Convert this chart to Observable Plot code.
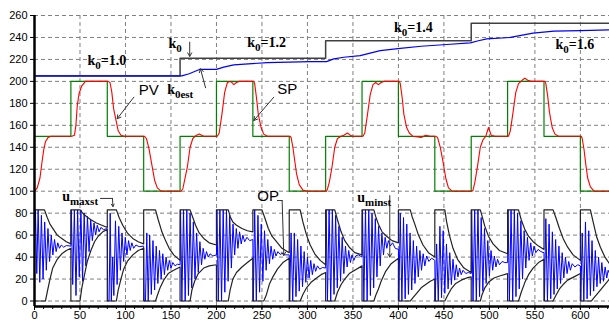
<!DOCTYPE html>
<html><head><meta charset="utf-8">
<script src="https://cdn.jsdelivr.net/npm/d3@7"></script>
<script src="https://cdn.jsdelivr.net/npm/@observablehq/plot@0.6"></script>
<style>body{margin:0;background:#fff;} svg{display:block}</style>
</head><body><div id="chart"></div><script>
// ---- tick labels ----
const xTicks = [0,50,100,150,200,250,300,350,400,450,500,550,600];
const yTicks = [0,20,40,60,80,100,120,140,160,180,200,220,240,260];

// ---- k0 (true gain, scaled) ----
const k0Times  = [0,160,320,480,632];
const k0Values = [205,221,237,253,253];

// ---- k0 estimate ----
const k0est = [[0,205],[162,205],[170,207],[176,209],[182,211],[190,211],[200,211],[208,213],[219,215],[235,216],[256,217],[280,217.5],[303,218],[321,218],[329,220.5],[340,222],[358,223.5],[370,226],[380,228],[402,230],[425,232],[453,233.6],[479,235],[488,237],[497,238.7],[523,240],[548,244],[571,245.7],[600,246.2],[632,247]];

// ---- set point ----
const spTimes  = [0,0,40,80,120,160,200,240,280,320,360,400,440,480,520,560,600,632];
const spValues = [125,150,200,150,100,150,200,150,100,150,200,150,100,150,200,150,100,100];

// ---- process variable ----
const pv = [[0,100],[3,103],[6,112],[8,125],[10,137],[12,145],[15,149],[18,150],[41,150],
[44,151],[45.5,160],[47,178],[49,189],[52,196],[56,200],[81,200],
[83,199],[85,190],[87,175],[89,167],[92,155],[95,151],[99,150],[121,150],
[123,148],[126,138],[129,124],[132,110],[135,103],[139,100],[161,100],
[163,102],[165,110],[168,122],[171,140],[174,148],[178,151],[181,152],[186,150],[201,150],
[203,153],[206,170],[209,190],[212,199],[215,200],[217,199],[219,197],[222,199],[225,200],[241,200],
[242,198],[244,185],[246,170],[249,158],[252,152],[256,150],[281,150],
[282,149],[284,140],[286,128],[288,116],[291,106],[295,101],[300,100],[321,100],
[322,102],[324,108],[327,122],[330,140],[333,148],[337,150],[340,151],[344,153],[347,151],[350,150],[361,150],
[363,153],[366,170],[369,188],[372,197],[375,199],[378,197],[381,199],[384,200],[401,200],
[402,198],[404,186],[406,170],[409,158],[412,153],[416,150],[425,149],[430,151],[435,150],[441,150],
[443,149],[446,140],[449,127],[452,112],[455,103],[459,100],[481,100],
[482,101],[484,108],[487,123],[490,140],[493,147],[496,150],[499,158],[502,151],[506,150],[521,150],
[523,155],[526,172],[529,190],[532,198],[536,201],[539,203],[542,201],[546,200],[561,200],
[562,198],[564,187],[566,172],[569,158],[572,152],[576,150],[601,150],
[602,148],[604,138],[606,124],[608,112],[611,104],[615,100],[632,100]];

// ---- OP limits (u_maxst, u_minst) ----
const uMax = [[0,83],[11,83],[14,76],[17,70],[21,65],[25,60],[30,57],[35,54],[40,52],
[40,83],[50,83],[53,80],[57,77],[62,74],[68,71],[74,69],[80,67],
[80,83],[90,83],[93,76],[97,69],[102,62],[108,57],[114,54],[120,52],
[120,83],[133,83],[136,74],[140,63],[144,55],[148,48],[153,42],[160,37],
[160,83],[171,83],[174,76],[177,69],[181,62],[186,57],[192,53],[200,51],
[200,83],[213,83],[215,77],[218,72],[222,69],[228,66],[234,64],[240,63],
[240,83],[250,83],[253,76],[257,66],[261,59],[266,54],[272,48],[280,44],
[280,83],[292,83],[295,72],[299,60],[303,51],[308,43],[314,37],[320,33],
[320,83],[330,83],[333,74],[337,63],[341,55],[346,49],[352,44],[360,42],
[360,83],[373,83],[375,77],[378,70],[382,63],[387,59],[393,55],[400,53],
[400,83],[413,83],[415,77],[418,70],[422,60],[427,51],[433,44],[440,40],
[440,83],[451,83],[453,72],[456,60],[460,48],[465,38],[472,30],[480,26],
[480,83],[490,83],[492,77],[495,68],[499,59],[504,52],[511,46],[520,43],
[520,83],[532,83],[535,74],[539,65],[543,59],[548,54],[554,50],[560,47],
[560,83],[570,83],[573,76],[577,66],[581,57],[586,49],[592,42],[600,37],
[600,83],[611,83],[614,72],[618,58],[622,49],[627,40],[632,34]];
const uMin = [[0,0],[12,0],[14,8],[17,20],[20,30],[25,38],[30,43],[35,46],[40,48],
[40,0],[50,0],[52,12],[55,24],[58,36],[62,46],[66,54],[70,59],[75,63],[80,65],
[80,0],[90,0],[92,10],[95,20],[98,29],[102,36],[108,42],[114,46],[120,48],
[120,0],[133,0],[135,5],[138,12],[142,19],[147,25],[153,28],[160,31],
[160,0],[171,0],[173,10],[176,18],[180,25],[186,30],[192,32],[200,33],
[200,0],[213,0],[215,10],[218,20],[222,26],[228,31],[234,35],[240,39],
[240,0],[252,0],[255,6],[258,15],[262,22],[267,29],[273,35],[280,39],
[280,0],[292,0],[295,6],[299,12],[304,17],[310,21],[315,24],[320,26],
[320,0],[330,0],[333,8],[337,15],[341,20],[346,25],[352,28],[360,32],
[360,0],[373,0],[375,5],[378,11],[381,18],[386,27],[392,34],[400,39],
[400,0],[413,0],[416,3],[420,7],[425,12],[430,15],[435,18],[440,20],
[440,0],[451,0],[454,5],[458,11],[463,16],[469,19],[475,21],[480,22],
[480,0],[490,0],[492,6],[495,12],[499,17],[505,21],[512,23],[520,25],
[520,0],[532,0],[535,8],[539,17],[543,24],[548,30],[554,35],[560,38],
[560,0],[570,0],[573,5],[577,11],[581,15],[586,19],[593,22],[600,25],
[600,0],[612,0],[615,3],[619,7],[624,12],[628,16],[632,20]];

// ---- controller output ----
const op = [[0,61],[1,83],[2.5,25],[4,83],[5.8,17],[7.6,78],[9.4,20],[11.2,72],[13,28],[14.8,66],[16.6,36],[18.4,60],[20.2,42],[22,56],[23.8,45],[25.6,53],[27.4,48],[29.5,51],[32,49],[35,50.5],[40,50],
[40.5,83],[42,15],[43.8,83],[45.6,5],[47.4,83],[49.2,22],[51,83],[52.8,18],[54.6,80],[56.4,32],[58.2,77],[60,45],[61.8,74],[63.6,55],[65.4,71],[67.2,60],[69,69],[71,63],[73,67],[76,65],[80,66],
[80.5,0],[82,0],[83.2,80],[84.4,0],[86,40],[87.2,5],[89,73],[90.8,15],[92.6,68],[94.4,28],[96.2,62],[98,36],[99.8,58],[101.6,42],[103.4,55],[105.2,46],[107,53],[109,48],[111.5,51],[115,49.5],[120,50],
[120.5,0],[122,0],[123.4,62],[125,0],[126.6,60],[128.4,6],[130.2,55],[132,10],[133.8,50],[135.6,16],[137.4,46],[139.2,20],[141,43],[142.8,24],[144.6,40],[146.4,28],[148.2,37],[150,30],[152,35],[154.5,32],[157,33.5],[160,33],
[160.5,83],[162,0],[163.8,83],[165.6,0],[167.4,83],[169.2,5],[171,80],[172.8,12],[174.6,72],[176.4,20],[178.2,62],[180,26],[181.8,54],[183.6,33],[185.4,48],[187.2,38],[189,45],[191,40],[193,43],[196,41],[200,42],
[200.5,83],[202,0],[203.8,83],[205.6,0],[207.4,83],[209.2,8],[211,83],[212.8,18],[214.6,78],[216.4,30],[218.2,70],[220,42],[221.8,66],[223.6,48],[225.4,63],[227.2,52],[229,60],[231,54],[233.5,58],[236.5,55],[240,56],
[240.5,0],[242,83],[243.8,0],[245.6,78],[247.4,8],[249.2,70],[251,18],[252.8,64],[254.6,28],[256.4,56],[258.2,34],[260,50],[261.8,38],[263.6,47],[265.4,41],[267.5,45],[270,42.5],[273,43.5],[276,42],[280,42],
[280.5,0],[282,62],[283.8,0],[285.6,62],[287.4,4],[289.2,56],[291,9],[292.8,50],[294.6,13],[296.4,45],[298.2,17],[300,40],[301.8,21],[303.6,37],[305.4,24],[307.2,34],[309,27],[311,32],[313.5,29],[316.5,30.5],[320,30],
[320.5,83],[322,0],[323.8,83],[325.6,0],[327.4,83],[329.2,6],[331,78],[332.8,12],[334.6,68],[336.4,18],[338.2,58],[340,25],[341.8,50],[343.6,31],[345.4,46],[347.2,35],[349,42],[351,37],[353,41],[356,42],[360,40],
[360.5,83],[362,0],[363.8,83],[365.6,0],[367.4,83],[369.2,5],[371,80],[372.8,12],[374.6,75],[376.4,22],[378.2,68],[380,32],[381.8,62],[383.6,42],[385.4,58],[387.2,48],[389,55],[391,50],[393.5,53],[396.5,48],[400,47],
[400.5,0],[402,80],[403.8,0],[405.6,76],[407.4,2],[409.2,70],[411,6],[412.8,62],[414.6,10],[416.4,55],[418.2,16],[420,50],[421.8,22],[423.6,46],[425.4,28],[427.2,43],[429,32],[431,41],[433.5,36],[436.5,39],[440,37],
[440.5,0],[442,52],[443.8,0],[445.6,68],[447.4,3],[449.2,64],[451,7],[452.8,52],[454.6,11],[456.4,44],[458.2,15],[460,38],[461.8,19],[463.6,33],[465.4,22],[467.2,30],[469,24],[471,28],[474,25],[477,26],[480,25],
[480.5,83],[482,0],[483.8,83],[485.6,0],[487.4,83],[489.2,4],[491,76],[492.8,9],[494.6,66],[496.4,16],[498.2,55],[500,23],[501.8,46],[503.6,28],[505.4,41],[507.2,31],[509,38],[511,33],[514,36],[517,35],[520,35],
[520.5,83],[522,0],[523.8,83],[525.6,0],[527.4,83],[529.2,4],[531,80],[532.8,11],[534.6,73],[536.4,20],[538.2,64],[540,30],[541.8,58],[543.6,37],[545.4,53],[547.2,41],[549,50],[551,44],[553.5,47],[556.5,45],[560,44],
[560.5,0],[562,75],[563.8,0],[565.6,70],[567.4,2],[569.2,63],[571,6],[572.8,56],[574.6,11],[576.4,50],[578.2,16],[580,44],[581.8,21],[583.6,40],[585.4,25],[587.2,36],[589,28],[591,34],[594,31],[597,33],[600,32],
[600.5,0],[602,62],[603.8,0],[605.6,72],[607.4,2],[609.2,64],[611,5],[612.8,55],[614.6,9],[616.4,46],[618.2,13],[620,40],[621.8,16],[623.6,35],[625.4,18],[627.2,31],[629,21],[630.5,28],[632,25]];

// ---- annotations (data coordinates) ----
const kLabels = [
  {x:58.3, y:214.5, t:"k_{0}=1.0"},
  {x:147.3, y:230, t:"k_{0}"},
  {x:233.8, y:231, t:"k_{0}=1.2"},
  {x:395, y:244.8, t:"k_{0}=1.4"},
  {x:572.6, y:229.7, t:"k_{0}=1.6"},
  {x:145.8, y:188.7, t:"k_{0est}"},
  {x:30.4, y:91.5, t:"u_{maxst}"},
  {x:354.7, y:90.6, t:"u_{minst}"}
];
const bigLabels = [
  {x:114.6, y:187.2, t:"PV"},
  {x:266.8, y:188.7, t:"SP"},
  {x:244.8, y:91.5, t:"OP"}
];
const arrows = [
  {x1:170.6, y1:235.7, x2:170.6, y2:222.8},
  {x1:188, y1:194.2, x2:182.4, y2:211.5},
  {x1:109.2, y1:185.6, x2:90.9, y2:166},
  {x1:263, y1:185.6, x2:241, y2:164.4},
  {x1:85.7, y1:93.4, x2:86.2, y2:86},
  {x1:272.2, y1:91.5, x2:274, y2:41.4},
  {x1:390.5, y1:96, x2:390.5, y2:40}
];
const leaders = [
  [[72.5,93.4],[85.7,93.4]],
  [[267,91.5],[272.2,91.5]]
];

const xMinor = d3.range(0, 640, 10);
const gridStyle = {stroke:"#808080", strokeOpacity:1, strokeDasharray:"4,3", strokeWidth:1};

const chart = Plot.plot({
  width: 609, height: 322,
  marginLeft: 34, marginRight: 0, marginTop: 15, marginBottom: 16,
  x: {domain: [0, 632], label: null},
  y: {domain: [-5, 260], label: null},
  style: {fontFamily: "'Liberation Sans', Arial, sans-serif", fontSize: "11px", background: "#fff", color: "#000"},
  marks: [
    Plot.gridX(xTicks.filter(d => d > 0), gridStyle),
    Plot.gridY(yTicks, gridStyle),
    Plot.axisX(xMinor, {tickSize: 3, tickFormat: () => "", stroke:"#000"}),
    Plot.axisX(xTicks, {tickSize: 4, tickPadding: 1, stroke:"#000", fill:"#000"}),
    Plot.axisY(yTicks, {tickSize: 4, tickPadding: 3, stroke:"#000", fill:"#000"}),
    // k0 and its estimate
    Plot.line(k0Times.map((t,i)=>[t,k0Values[i]]), {x: d=>d[0], y: d=>d[1], curve:"step-after", stroke:"#404040", strokeWidth:1.5}),
    Plot.line(k0est, {x: d=>d[0], y: d=>d[1], stroke:"#0000ff", strokeWidth:1.2}),
    // SP and PV
    Plot.line(spTimes.map((t,i)=>[t,spValues[i]]), {x: d=>d[0], y: d=>d[1], curve:"step-after", stroke:"#008000", strokeWidth:1.2}),
    Plot.line(pv, {x: d=>d[0], y: d=>d[1], stroke:"#ff0000", strokeWidth:1.1}),
    // OP
    Plot.line(op, {x: d=>d[0], y: d=>d[1], stroke:"#0000ff", strokeWidth:1}),
    Plot.line(uMax, {x: d=>d[0], y: d=>d[1], stroke:"#222", strokeWidth:1.2}),
    Plot.line(uMin, {x: d=>d[0], y: d=>d[1], stroke:"#222", strokeWidth:1.2}),
    // frame lines
    Plot.ruleX([0], {stroke:"#000", strokeWidth:2.5}),
    Plot.ruleY([-5], {stroke:"#000", strokeWidth:2.5}),
    // annotations
    ...leaders.map(l => Plot.line(l, {x: d=>d[0], y: d=>d[1], stroke:"#333", strokeWidth:1})),
    Plot.arrow(arrows, {x1:"x1", y1:"y1", x2:"x2", y2:"y2", stroke:"#333", strokeWidth:1, headLength:6}),
    Plot.text(kLabels, {x:"x", y:"y", text:"t", textAnchor:"start", lineAnchor:"bottom", fontFamily:"'Liberation Serif', 'Times New Roman', serif", fontWeight:"bold", fontSize:14, fill:"#000"}),
    Plot.text(bigLabels, {x:"x", y:"y", text:"t", textAnchor:"start", lineAnchor:"bottom", fontFamily:"'Liberation Sans', Arial, sans-serif", fontSize:15, fill:"#000"})
  ]
});

// subscripts
chart.querySelectorAll("text").forEach(t => {
  const s = t.textContent;
  if (!s.includes("_{")) return;
  const parts = s.split(/(_\{[^}]*\})/).filter(p => p);
  while (t.firstChild) t.removeChild(t.firstChild);
  let shifted = false;
  for (const p of parts) {
    const ts = document.createElementNS("http://www.w3.org/2000/svg", "tspan");
    if (p.startsWith("_{")) {
      ts.textContent = p.slice(2, -1);
      ts.setAttribute("dy", "4");
      ts.setAttribute("font-size", "11");
      shifted = true;
    } else {
      ts.textContent = p;
      if (shifted) { ts.setAttribute("dy", "-4"); shifted = false; }
    }
    t.appendChild(ts);
  }
});

document.getElementById("chart").appendChild(chart);
</script></body></html>
